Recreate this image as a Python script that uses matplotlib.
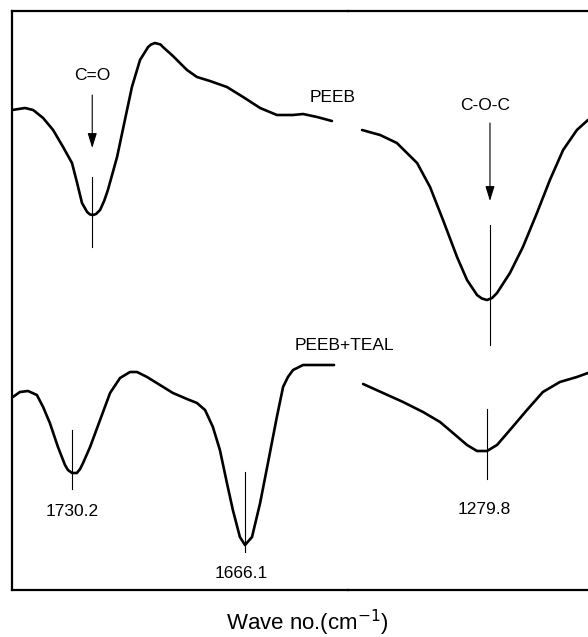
import matplotlib
matplotlib.use("Agg")
import matplotlib.pyplot as plt

plt.rcParams['font.family'] = ['Liberation Sans', 'DejaVu Sans']

# ---- spectra (wave number in cm^-1, intensity in arbitrary units) ----
# PEEB, C=O region
peeb_hi_wn = [1752.4, 1747.6, 1744.6, 1740.9, 1737.2, 1733.5, 1730.2, 1728.3, 1726.5,
              1724.6, 1723.5, 1722.4, 1721.3, 1719.8, 1718.3, 1716.9, 1713.5, 1710.6,
              1708.0, 1705.0, 1702.0, 1700.9, 1699.5, 1697.4, 1696.5, 1692.8, 1687.6,
              1683.9, 1679.1, 1672.8, 1666.8, 1660.5, 1654.3, 1648.3, 1644.6, 1639.4,
              1633.9]
peeb_hi_y = [48.0, 48.2, 48.0, 47.2, 46.0, 44.3, 42.7, 40.7, 38.7,
             37.8, 37.55, 37.5, 37.6, 38.0, 38.9, 40.0, 43.3, 47.0,
             50.3, 53.0, 54.3, 54.55, 54.7, 54.55, 54.3, 53.4, 52.0,
             51.3, 50.9, 50.3, 49.3, 48.2, 47.5, 47.5, 47.6, 47.3,
             46.9]
# PEEB, C-O-C region
peeb_lo_wn = [1326.1, 1319.4, 1313.2, 1305.7, 1300.9, 1296.1, 1290.9, 1287.2, 1283.5,
              1281.7, 1279.8, 1277.9, 1276.1, 1271.3, 1266.5, 1261.3, 1256.5, 1251.6,
              1246.5, 1242.4]
peeb_lo_y = [46.0, 45.5, 44.7, 42.7, 40.3, 37.0, 33.3, 31.0, 29.5,
             29.15, 29.0, 29.2, 29.7, 31.7, 34.3, 37.7, 41.0, 44.0,
             46.0, 47.0]

# PEEB+TEAL, C=O region
teal_hi_wn = [1752.1, 1749.5, 1746.5, 1743.2, 1740.9, 1738.4, 1735.4, 1732.8, 1731.7,
              1730.2, 1728.4, 1727.2, 1726.1, 1723.5, 1719.8, 1716.1, 1712.4, 1708.7,
              1706.1, 1702.4, 1697.6, 1692.8, 1687.6, 1683.9, 1680.9, 1678.0, 1675.4,
              1672.8, 1670.6, 1668.0, 1666.1, 1663.5, 1660.5, 1657.6, 1654.3, 1652.0,
              1650.2, 1648.3, 1644.6, 1638.3, 1633.1]
teal_hi_y = [19.3, 19.8, 19.9, 19.5, 18.3, 16.7, 14.3, 12.5, 12.0,
             11.7, 11.7, 12.1, 12.7, 14.3, 17.0, 19.7, 21.2, 21.8,
             21.8, 21.3, 20.5, 19.7, 19.1, 18.7, 18.0, 16.3, 14.0,
             10.7, 8.0, 5.3, 4.5, 5.3, 8.7, 12.7, 17.3, 20.3,
             21.3, 22.0, 22.5, 22.5, 22.5]
# PEEB+TEAL, C-O-C region
teal_lo_wn = [1325.7, 1318.3, 1310.9, 1303.5, 1297.2, 1292.4, 1287.2, 1283.5, 1279.8,
              1276.1, 1271.3, 1265.0, 1259.1, 1252.8, 1246.5, 1242.4]
teal_lo_y = [20.6, 19.7, 18.8, 17.8, 16.8, 15.7, 14.5, 13.9, 13.9,
             14.5, 16.0, 18.0, 19.8, 20.8, 21.3, 21.7]

# band markers: (wave number, y bottom, y top)
peeb_bands = [(1722.7, 34.3, 41.3), (1278.7, 24.5, 36.5)]
teal_bands = [(1730.2, 10.1, 16.0), (1666.1, 3.8, 11.8), (1279.8, 11.1, 18.1)]
teal_band_labels = ["1730.2", "1666.1", "1279.8"]

# ---- figure with a broken wave-number axis ----
W, H = 588, 637
fig = plt.figure(figsize=(W / 100, H / 100), dpi=100)
ax_l = fig.add_axes([12 / W, 47 / H, 336 / W, 579 / H])
ax_r = fig.add_axes([348 / W, 47 / H, 240 / W, 579 / H])

ax_l.set_xlim(1752.43, 1627.94)
ax_r.set_xlim(1331.30, 1242.38)
for ax in (ax_l, ax_r):
    ax.set_ylim(0, 57.9)
    ax.set_xticks([])
    ax.set_yticks([])
    ax.patch.set_alpha(0)
    for s in ax.spines.values():
        s.set_linewidth(1.6)
ax_l.spines['right'].set_visible(False)
ax_r.spines['left'].set_visible(False)
ax_r.spines['right'].set_visible(False)

curve_kw = dict(color='black', lw=1.9, solid_capstyle='round', solid_joinstyle='round')
ax_l.plot(peeb_hi_wn, peeb_hi_y, **curve_kw)
ax_r.plot(peeb_lo_wn, peeb_lo_y, **curve_kw)
ax_l.plot(teal_hi_wn, teal_hi_y, **curve_kw)
ax_r.plot(teal_lo_wn, teal_lo_y, **curve_kw)

# thin band markers
for (wn, y0, y1), ax in zip(peeb_bands, (ax_l, ax_r)):
    ax.plot([wn, wn], [y0, y1], color='black', lw=0.8)
for (wn, y0, y1), ax in zip(teal_bands, (ax_l, ax_l, ax_r)):
    ax.plot([wn, wn], [y0, y1], color='black', lw=0.8)

# assignment arrows
arrow_kw = dict(arrowstyle='-|>,head_length=0.9,head_width=0.28', lw=0.8,
                color='black', mutation_scale=10, shrinkA=0, shrinkB=0)
ax_l.annotate('', xy=(1722.7, 44.2), xytext=(1722.7, 49.5), arrowprops=arrow_kw)
ax_r.annotate('', xy=(1278.7, 38.9), xytext=(1278.7, 46.7), arrowprops=arrow_kw)

fs = 12.5
ax_l.text(1722.7, 51.4, "C=O", fontsize=fs, ha='center', va='center')
ax_r.text(1280.5, 48.5, "C-O-C", fontsize=fs, ha='center', va='center')
ax_l.text(1633.8, 49.2, "PEEB", fontsize=fs, ha='center', va='center')
ax_l.text(1629.3, 24.5, "PEEB+TEAL", fontsize=fs, ha='center', va='center',
          clip_on=False)

label_y = [7.8, 1.7, 8.0]
label_x = [1730.2, 1667.4, 1281.0]
for txt, x, y, ax in zip(teal_band_labels, label_x, label_y, (ax_l, ax_l, ax_r)):
    ax.text(x, y, txt, fontsize=fs, ha='center', va='center')

fig.text(307 / W, 1 - 623 / H, r"Wave no.(cm$^{-1}$)", fontsize=16,
         ha='center', va='center')

fig.savefig("out.png", dpi=100)
